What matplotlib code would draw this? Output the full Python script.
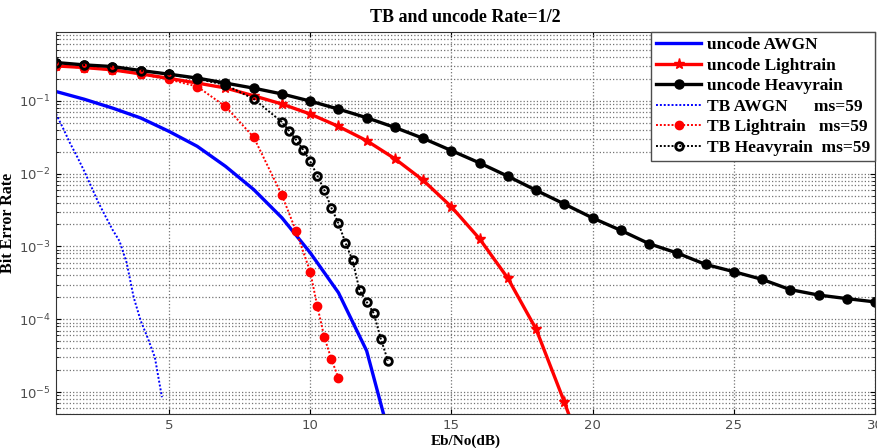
import matplotlib
matplotlib.use("Agg")
import matplotlib.pyplot as plt
from matplotlib.ticker import LogLocator, NullFormatter

# Eb/No axis (dB)
snr_uncode = list(range(1, 31))

# uncode curves
ber_uncode_awgn = [0.134, 0.105, 0.0794, 0.058, 0.038, 0.0237, 0.0126, 0.00604,
                   0.00247, 0.00082, 0.000232, 3.68e-5, 1.3e-6]
ber_uncode_light = [0.301, 0.286, 0.266, 0.234, 0.203, 0.175, 0.150, 0.117, 0.0902,
                    0.0658, 0.0445, 0.0283, 0.016, 0.00809, 0.0035, 0.00127,
                    0.000365, 7.3e-5, 7.3e-6, 6e-7]
ber_uncode_heavy = [0.335, 0.311, 0.295, 0.26, 0.232, 0.205, 0.175, 0.149, 0.124,
                    0.099, 0.0769, 0.0585, 0.043, 0.0305, 0.0207, 0.014, 0.00919,
                    0.0059, 0.00382, 0.00246, 0.00166, 0.00109, 0.00081, 0.000566,
                    0.00045, 0.000353, 0.000255, 0.000215, 0.000192, 0.000173]

# turbo coded curves
snr_tb_awgn = [1.0, 1.25, 1.5, 1.75, 2.0, 2.25, 2.5, 2.75, 3.0, 3.25, 3.5, 3.75,
               4.0, 4.25, 4.5, 4.75]
ber_tb_awgn = [0.066, 0.042, 0.026, 0.017, 0.0108, 0.0066, 0.0040, 0.0026, 0.0017,
               0.00118, 0.0006, 0.0002, 9.5e-5, 5.5e-5, 3.0e-5, 8.5e-6]

snr_tb_light = [1, 2, 3, 4, 5, 6, 7, 8, 9, 9.5, 10, 10.25, 10.5, 10.75, 11]
ber_tb_light = [0.30, 0.285, 0.265, 0.232, 0.196, 0.157, 0.0835, 0.0316, 0.00505,
                0.00162, 0.00045, 0.000152, 5.7e-5, 2.83e-5, 1.56e-5]

snr_tb_heavy = [1, 2, 3, 4, 5, 6, 7, 8, 9, 9.25, 9.5, 9.75, 10, 10.25, 10.5, 10.75,
                11, 11.25, 11.5, 11.75, 12, 12.25, 12.5, 12.75]
ber_tb_heavy = [0.335, 0.31, 0.295, 0.26, 0.23, 0.20, 0.165, 0.106, 0.051, 0.0388,
                0.0292, 0.0213, 0.0147, 0.0094, 0.0059, 0.0034, 0.00207, 0.00112,
                0.000643, 0.000249, 0.000173, 0.000121, 5.4e-5, 2.7e-5]

serif = ["Liberation Serif", "DejaVu Serif"]
dotted = (0, (1.0, 1.0))

fig = plt.figure(figsize=(8.78, 4.48), dpi=100)
ax = fig.add_axes([0.0638, 0.0759, 0.9328, 0.8527])

ax.semilogy(snr_uncode[:len(ber_uncode_awgn)], ber_uncode_awgn, color="blue", lw=2.4,
            label="uncode AWGN")
ax.semilogy(snr_uncode[:len(ber_uncode_light)], ber_uncode_light, color="red", lw=2.4,
            marker="*", ms=8, label="uncode Lightrain")
ax.semilogy(snr_uncode, ber_uncode_heavy, color="black", lw=2.4, marker="o", ms=6.5,
            label="uncode Heavyrain")
ax.semilogy(snr_tb_awgn, ber_tb_awgn, color="blue", lw=1.4, ls=dotted,
            label="TB AWGN      ms=59")
ax.semilogy(snr_tb_light, ber_tb_light, color="red", lw=1.4, ls=dotted, marker="o",
            ms=6, label="TB Lightrain   ms=59")
ax.semilogy(snr_tb_heavy, ber_tb_heavy, color="black", lw=1.4, ls=dotted, marker="o",
            ms=5.5, mfc="none", mew=2, label="TB Heavyrain  ms=59")

ax.set_xlim(1, 30)
ax.set_ylim(5e-6, 0.88)
ax.set_xticks([5, 10, 15, 20, 25, 30])
ax.yaxis.set_minor_locator(LogLocator(base=10, subs=range(2, 10), numticks=20))
ax.yaxis.set_minor_formatter(NullFormatter())

ax.grid(True, which="major", ls=":", color="0.45", lw=0.9)
ax.grid(True, which="minor", axis="y", ls=":", color="0.45", lw=0.9)
ax.tick_params(which="both", direction="in", labelsize=9.5, labelcolor="0.3",
               top=True, right=True)
for s in ax.spines.values():
    s.set_color("0.2")

ax.set_title("TB and uncode Rate=1/2", family=serif, fontweight="bold", fontsize=13,
             pad=7)
ax.set_xlabel("Eb/No(dB)", family=serif, fontweight="bold", fontsize=11, labelpad=2)
ax.set_ylabel("Bit Error Rate", family=serif, fontweight="bold", fontsize=11.5)
ax.yaxis.set_label_coords(-0.049, 0.5)

leg = ax.legend(loc="upper right", bbox_to_anchor=(1.0, 1.0), borderaxespad=0.0,
                prop={"family": serif, "weight": "bold", "size": 12.5},
                fancybox=False, edgecolor="0.3", framealpha=1, handlelength=2.6,
                labelspacing=0.25, handletextpad=0.3, borderpad=0.3)

fig.savefig("out.png", dpi=100)
